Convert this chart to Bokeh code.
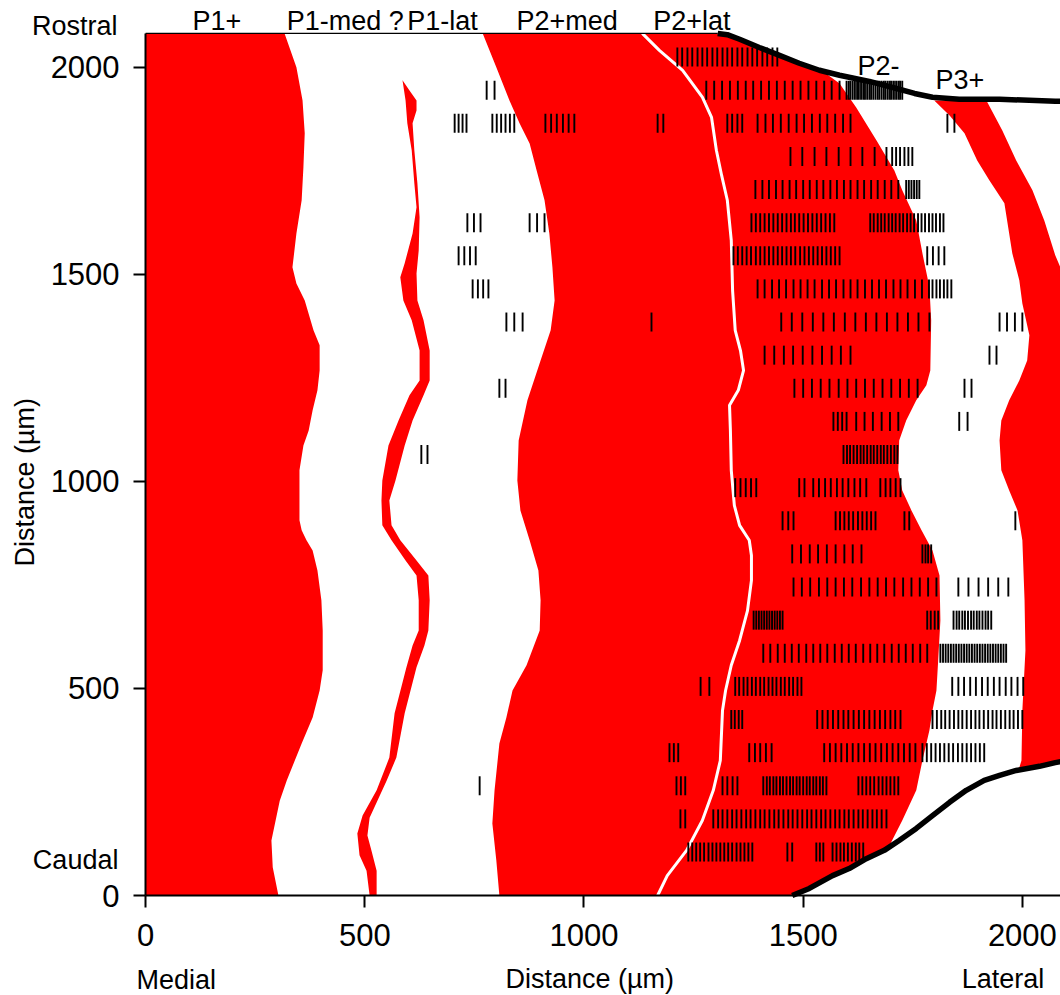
import math
from bokeh.plotting import figure
from bokeh.models import Label, LinearAxis, FixedTicker
from bokeh.embed import file_html
from bokeh.resources import INLINE

FONT = "Liberation Sans"
RED = "#ff0000"

# ---------------- data (micrometres) ----------------
x_ticks = [0, 500, 1000, 1500, 2000]
y_ticks = [0, 500, 1000, 1500, 2000]
x_extent = [0, 2087]
y_extent = [0, 2082]

# P1+ zone (medial edge to boundary)
p1plus_x = [0, 317, 344, 358, 363, 360, 356, 344, 335, 344, 363, 383, 397, 397, 392, 381, 372, 360, 351, 351,
            351, 356, 367, 381, 392, 401, 404, 404, 397, 381, 356, 322, 306, 287, 290, 303, 0]
p1plus_y = [2082, 2082, 2000, 1920, 1841, 1759, 1679, 1599, 1517, 1478, 1437, 1365, 1329, 1268, 1220, 1172, 1123,
            1087, 1027, 954, 906, 882, 858, 833, 785, 713, 640, 544, 495, 430, 367, 278, 229, 133, 68, 0, 0]

# P1-lat thin strip
strip_left_x = [586, 593, 597, 607, 613, 618, 609, 591, 581, 588, 607, 625, 625, 602, 577, 554, 540, 538, 540, 561,
                593, 618, 623, 623, 609, 595, 568, 556, 527, 495, 483, 488, 504, 511]
strip_left_y = [1969, 1920, 1865, 1800, 1720, 1662, 1599, 1527, 1493, 1437, 1389, 1316, 1244, 1208, 1147, 1087, 1002,
                954, 894, 858, 809, 773, 713, 640, 604, 551, 440, 333, 254, 193, 150, 97, 60, 0]
strip_right_x = [602, 618, 618, 609, 613, 620, 625, 623, 618, 620, 634, 648, 648, 634, 609, 591, 570, 556, 561, 581,
                 618, 645, 648, 645, 636, 618, 591, 572, 550, 511, 506, 515, 527, 527]
strip_right_y = [1944, 1920, 1896, 1865, 1800, 1720, 1638, 1558, 1502, 1437, 1389, 1316, 1244, 1208, 1147, 1087, 1002,
                 954, 894, 858, 809, 773, 713, 640, 604, 551, 440, 333, 278, 188, 145, 109, 60, 0]

# P2+ zone (med + lat)
p2_left_x = [769, 800, 830, 853, 876, 892, 910, 921, 928, 933, 924, 901, 871, 851, 848, 855, 876, 896, 901, 899,
             869, 837, 823, 807, 796, 791, 800, 807]
p2_left_y = [2082, 2000, 1920, 1865, 1816, 1751, 1679, 1599, 1517, 1437, 1365, 1292, 1196, 1099, 1002, 930, 858, 785,
             713, 640, 556, 495, 430, 367, 254, 174, 85, 0]
p2_right_x = [1327, 1355, 1400, 1446, 1491, 1537, 1548, 1583, 1621, 1667, 1708, 1726, 1758, 1772, 1788, 1792, 1790,
              1781, 1758, 1735, 1719, 1717, 1726, 1747, 1770, 1795, 1811, 1813, 1808, 1804, 1795, 1788, 1772, 1758,
              1726, 1697, 1644, 1605, 1567, 1514, 1475]
p2_right_y = [2082, 2068, 2048, 2029, 2010, 1993, 1988, 1961, 1903, 1824, 1751, 1703, 1630, 1551, 1469, 1389, 1268,
              1232, 1196, 1147, 1099, 1027, 978, 930, 882, 833, 773, 664, 568, 495, 447, 399, 326, 254, 181, 121, 89,
              65, 48, 17, 0]

# white divider between P2+med and P2+lat
divider_x = [1133, 1172, 1225, 1270, 1291, 1302, 1314, 1327, 1336, 1339, 1345, 1357, 1364, 1352, 1332, 1334, 1336,
             1343, 1355, 1377, 1382, 1382, 1373, 1355, 1336, 1323, 1316, 1311, 1295, 1270, 1234, 1190, 1168]
divider_y = [2082, 2041, 1993, 1928, 1879, 1800, 1739, 1679, 1582, 1461, 1365, 1316, 1268, 1220, 1184, 1123, 1027,
             942, 894, 858, 821, 761, 688, 616, 556, 495, 447, 326, 254, 181, 109, 48, 0]

# P3+ zone
p3_left_x = [1799, 1834, 1868, 1897, 1925, 1959, 1977, 1993, 2000, 2016, 2011, 1993, 1970, 1952, 1948, 1952, 1970,
             1989, 2000, 2005, 2007, 2000, 1998, 1991]
p3_left_y = [1920, 1884, 1841, 1775, 1727, 1672, 1551, 1486, 1430, 1353, 1292, 1244, 1196, 1147, 1099, 1027, 978, 930,
             858, 713, 592, 447, 326, 302]
p3_bottom_x = [2039, 2075, 2160]
p3_bottom_y = [312, 321, 337]
p3_right_x = [2160, 2153, 2119, 2075, 2050, 2023, 1986, 1954, 1918]
p3_right_y = [1300, 1365, 1437, 1546, 1630, 1703, 1775, 1848, 1920]

# tissue edges (thick black lines)
edge_top_x = [1305, 1327, 1355, 1400, 1446, 1491, 1537, 1583, 1651, 1713, 1754, 1795, 1856, 1948, 2075, 2130]
edge_top_y = [2082, 2079, 2068, 2048, 2029, 2010, 1993, 1981, 1966, 1949, 1937, 1928, 1923, 1923, 1918, 1918]
edge_bottom_x = [1475, 1514, 1567, 1605, 1644, 1685, 1719, 1758, 1795, 1834, 1872, 1913, 1948, 1986, 2039,
                 2075, 2130]
edge_bottom_y = [0, 17, 48, 65, 89, 109, 133, 162, 193, 225, 254, 278, 290, 302, 312, 321, 331]

# recording tracks: depth of each row and recording-site positions along it
row_depths = [2025, 1945, 1865, 1785, 1705, 1625, 1545, 1465, 1385, 1305, 1225, 1145, 1065, 985, 905, 825, 745, 665,
              585, 505, 425, 345, 265, 185, 105]
row_sites = [
    [1213, 1224, 1236, 1247, 1259, 1270, 1281, 1293, 1304, 1316, 1327, 1338, 1350, 1361, 1373, 1384, 1395, 1407, 1418,
     1430, 1441],
    [778, 796, 1279, 1297, 1315, 1333, 1351, 1369, 1386, 1404, 1422, 1440, 1458, 1476, 1494, 1512, 1530, 1548, 1565,
     1583, 1599, 1604, 1608, 1613, 1618, 1623, 1627, 1632, 1637, 1641, 1646, 1651, 1655, 1660, 1665, 1670, 1674, 1679,
     1684, 1688, 1693, 1698, 1702, 1707, 1712, 1717, 1721, 1726],
    [705, 714, 723, 732, 791, 801, 811, 821, 831, 841, 912, 925, 938, 952, 965, 978, 1168, 1181, 1327, 1338, 1350,
     1361, 1396, 1414, 1431, 1449, 1467, 1485, 1502, 1520, 1538, 1555, 1573, 1591, 1608, 1829, 1845],
    [1471, 1498, 1526, 1553, 1581, 1608, 1635, 1663, 1690, 1703, 1712, 1721, 1731, 1740, 1749],
    [1391, 1407, 1422, 1438, 1453, 1469, 1484, 1500, 1515, 1531, 1546, 1562, 1577, 1593, 1608, 1624, 1639, 1655, 1670,
     1686, 1701, 1717, 1735, 1741, 1747, 1753, 1759, 1765],
    [734, 749, 764, 876, 893, 910, 1382, 1392, 1402, 1412, 1422, 1432, 1442, 1452, 1462, 1472, 1481, 1491, 1501, 1511,
     1521, 1531, 1541, 1551, 1561, 1571, 1653, 1661, 1670, 1678, 1686, 1695, 1703, 1711, 1720, 1728, 1737, 1745, 1753,
     1762, 1770, 1778, 1787, 1795, 1803, 1812, 1820],
    [714, 727, 740, 753, 1341, 1351, 1361, 1371, 1381, 1392, 1402, 1412, 1422, 1432, 1442, 1452, 1462, 1472, 1482,
     1493, 1503, 1513, 1523, 1533, 1543, 1553, 1563, 1573, 1583, 1783, 1796, 1809, 1822],
    [746, 758, 770, 782, 1396, 1412, 1429, 1445, 1461, 1478, 1494, 1510, 1526, 1543, 1559, 1575, 1592, 1608, 1624,
     1641, 1657, 1673, 1689, 1706, 1722, 1738, 1755, 1771, 1787, 1795, 1804, 1812, 1821, 1829, 1838],
    [823, 841, 860, 1154, 1450, 1474, 1498, 1522, 1546, 1570, 1595, 1619, 1643, 1667, 1691, 1715, 1739, 1763, 1788,
     1948, 1965, 1983, 2000],
    [1412, 1434, 1456, 1477, 1499, 1521, 1543, 1565, 1586, 1608, 1925, 1941],
    [807, 821, 1480, 1500, 1520, 1540, 1560, 1581, 1601, 1621, 1641, 1661, 1681, 1701, 1721, 1741, 1761, 1868, 1884],
    [1569, 1579, 1589, 1599, 1621, 1640, 1659, 1679, 1698, 1717, 1856, 1875],
    [629, 643, 1592, 1600, 1607, 1615, 1623, 1631, 1638, 1646, 1654, 1661, 1669, 1677, 1684, 1692, 1700, 1708, 1715],
    [1345, 1357, 1369, 1381, 1393, 1491, 1503, 1523, 1536, 1550, 1563, 1577, 1590, 1603, 1617, 1630, 1644, 1676, 1688,
     1699, 1711, 1722],
    [1453, 1466, 1478, 1574, 1584, 1594, 1604, 1614, 1625, 1635, 1645, 1655, 1665, 1731, 1742, 1984],
    [1475, 1495, 1515, 1534, 1554, 1574, 1594, 1613, 1633, 1772, 1779, 1785, 1792],
    [1478, 1497, 1516, 1536, 1555, 1574, 1593, 1612, 1632, 1651, 1670, 1689, 1708, 1728, 1747, 1766, 1785, 1804, 1854,
     1877, 1900, 1922, 1945, 1968],
    [1387, 1393, 1399, 1405, 1411, 1417, 1423, 1429, 1435, 1441, 1447, 1453, 1783, 1791, 1800, 1808, 1843, 1850, 1856,
     1863, 1869, 1876, 1883, 1889, 1896, 1902, 1909, 1916, 1922, 1929],
    [1409, 1425, 1442, 1458, 1474, 1490, 1507, 1523, 1539, 1555, 1572, 1588, 1604, 1620, 1637, 1653, 1669, 1685, 1702,
     1718, 1734, 1750, 1767, 1783, 1813, 1819, 1825, 1831, 1837, 1843, 1849, 1855, 1861, 1867, 1873, 1879, 1885, 1891,
     1897, 1903, 1909, 1915, 1921, 1927, 1933, 1939, 1945, 1951, 1957, 1963],
    [1266, 1286, 1345, 1354, 1364, 1373, 1383, 1392, 1402, 1411, 1421, 1430, 1439, 1449, 1458, 1468, 1477, 1487, 1496,
     1840, 1854, 1867, 1881, 1894, 1908, 1921, 1935, 1948, 1962, 1975, 1989, 2002],
    [1336, 1344, 1353, 1361, 1532, 1544, 1556, 1568, 1580, 1592, 1603, 1615, 1627, 1639, 1651, 1663, 1675, 1687, 1699,
     1710, 1722, 1795, 1805, 1815, 1824, 1834, 1844, 1854, 1863, 1873, 1883, 1893, 1902, 1912, 1922, 1932, 1941, 1951,
     1961, 1971, 1980, 1990, 2000],
    [1195, 1205, 1215, 1377, 1390, 1402, 1415, 1428, 1548, 1561, 1574, 1587, 1600, 1613, 1626, 1639, 1652, 1665, 1678,
     1691, 1704, 1717, 1730, 1743, 1756, 1772, 1782, 1792, 1802, 1812, 1822, 1832, 1842, 1853, 1863, 1873, 1883, 1893,
     1903, 1913],
    [762, 1211, 1221, 1231, 1316, 1327, 1339, 1350, 1409, 1417, 1424, 1432, 1439, 1447, 1454, 1462, 1470, 1477, 1485,
     1492, 1500, 1508, 1515, 1523, 1530, 1538, 1545, 1553, 1626, 1635, 1644, 1653, 1662, 1672, 1681, 1690, 1699, 1708,
     1717],
    [1220, 1231, 1295, 1306, 1316, 1327, 1338, 1348, 1359, 1370, 1380, 1391, 1402, 1412, 1423, 1434, 1444, 1455, 1466,
     1476, 1487, 1498, 1509, 1519, 1530, 1541, 1551, 1562, 1573, 1583, 1594, 1604, 1615, 1626, 1636, 1647, 1658, 1668,
     1679, 1690],
    [1238, 1247, 1256, 1265, 1274, 1284, 1293, 1302, 1311, 1320, 1329, 1338, 1348, 1357, 1366, 1375, 1384, 1464, 1475,
     1530, 1538, 1546, 1567, 1576, 1585, 1593, 1602, 1611, 1620, 1628, 1637],
]

zone_labels = ["P1+", "P1-med ?", "P1-lat", "P2+med", "P2+lat", "P2-", "P3+"]
zone_label_x = [107, 322, 597, 846, 1158, 1624, 1802]
zone_label_y = [2112, 2112, 2112, 2112, 2112, 2004, 1970]

# ---------------- figure ----------------
# The frame covers the whole page so that the side texts (Rostral, Medial...) are not clipped;
# the axes are pinned at x = 0 and y = 0.
p = figure(width=1060, height=995, x_range=(-331, 2087), y_range=(-241.5, 2161.5),
           output_backend="svg", toolbar_location=None,
           x_axis_location=None, y_axis_location=None,
           min_border_left=0, min_border_right=0, min_border_top=0, min_border_bottom=0)
p.outline_line_color = None
p.xgrid.visible = False
p.ygrid.visible = False
p.background_fill_color = "white"
p.border_fill_color = "white"

# red zones
p.patch(p1plus_x, p1plus_y, fill_color=RED, line_color=None)
p.patch(strip_left_x + strip_right_x[::-1], strip_left_y + strip_right_y[::-1], fill_color=RED, line_color=None)
p.patch(p2_left_x[::-1] + p2_right_x, p2_left_y[::-1] + p2_right_y, fill_color=RED, line_color=None)
p.patch(p3_left_x + p3_bottom_x + p3_right_x, p3_left_y + p3_bottom_y + p3_right_y, fill_color=RED, line_color=None)

# divider
p.line(divider_x, divider_y, line_color="white", line_width=3)

# recording sites
xs, ys = [], []
for depth, sites in zip(row_depths, row_sites):
    xs.extend(sites)
    ys.extend([depth] * len(sites))
p.rect(x=xs, y=ys, width=1.9, height=19, width_units="screen", height_units="screen",
       fill_color="black", line_color=None)

# tissue edges
p.line([x_extent[0], edge_top_x[0]], [y_extent[1], y_extent[1]], line_color="black", line_width=1.3)
p.line(edge_top_x, edge_top_y, line_color="black", line_width=5.5, line_join="round")
p.line(edge_bottom_x, edge_bottom_y, line_color="black", line_width=5.5, line_join="round")

# axes pinned at the origin
yax = LinearAxis(fixed_location=0, bounds=tuple(y_extent), ticker=FixedTicker(ticks=y_ticks))
xax = LinearAxis(fixed_location=0, bounds=tuple(x_extent), ticker=FixedTicker(ticks=x_ticks))
p.add_layout(yax, "left")
p.add_layout(xax, "below")
for ax in (xax, yax):
    ax.axis_line_width = 2
    ax.axis_line_color = "black"
    ax.major_tick_line_width = 2
    ax.major_tick_line_color = "black"
    ax.major_tick_out = 12
    ax.major_tick_in = 0
    ax.minor_tick_line_color = None
    ax.major_label_text_font = FONT
    ax.major_label_text_font_size = "31px"
    ax.major_label_text_color = "black"
xax.major_label_standoff = 16
yax.major_label_standoff = 14


def lab(text, x, y, align="left", baseline="alphabetic", angle=0.0, size="27px"):
    p.add_layout(Label(x=x, y=y, text=text, text_font=FONT, text_font_size=size, text_color="black",
                       text_align=align, text_baseline=baseline, angle=angle))


for t, x, y in zip(zone_labels, zone_label_x, zone_label_y):
    lab(t, x, y)

lab("Rostral", -64, 2100, align="right")
lab("Caudal", -62, 86, align="right")
lab("Medial", -21, -204)
lab("Lateral", 2050, -202, align="right")
lab("Distance (µm)", 1013, -202, align="center")
lab("Distance (µm)", -276, 998, align="center", baseline="middle", angle=math.pi / 2)

open("out.html", "w").write(file_html(p, INLINE))
